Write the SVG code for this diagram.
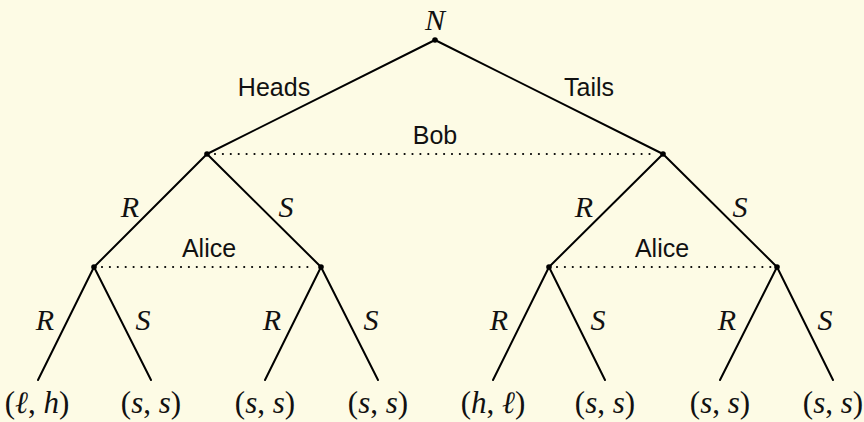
<svg xmlns="http://www.w3.org/2000/svg" width="864" height="422" viewBox="0 0 864 422">
<style>
.e{stroke:#000;stroke-width:2;fill:none;stroke-linecap:round}
.d{stroke:#000;stroke-width:2.2;fill:none;stroke-dasharray:0 7.9;stroke-linecap:round}
.n{fill:#000}
.s{font-family:"Liberation Sans",Arial,sans-serif;font-size:25px;fill:#111;text-anchor:middle}
.m{font-family:"Liberation Serif","DejaVu Serif",serif;font-style:italic;font-size:30px;fill:#111;text-anchor:middle}
.p{font-family:"Liberation Serif","DejaVu Serif",serif;font-size:31px;fill:#111;text-anchor:middle}
</style>
<rect width="864" height="422" fill="#fdfbe5"/>
<g id="connectors">
<path class="e" d="M435 40L207 154M435 40L663 154"/>
<path class="e" d="M207 154L94 267M207 154L321 267M663 154L549 267M663 154L777 267"/>
<path class="e" d="M94 267L38 380M94 267L151 380M321 267L265 380M321 267L378 380"/>
<path class="e" d="M549 267L493 380M549 267L605 380M777 267L720 380M777 267L833 380"/>
<path class="d" d="M215 154H657"/>
<path class="d" d="M102 267H315"/>
<path class="d" d="M557 267H771"/>
</g>
<g id="root"><circle class="n" cx="435" cy="40" r="2.8"/><text class="m" x="435" y="30">N</text></g>
<g id="bob-left"><circle class="n" cx="207" cy="154" r="2.8"/></g>
<g id="bob-right"><circle class="n" cx="663" cy="154" r="2.8"/></g>
<g id="alice-1"><circle class="n" cx="94" cy="267" r="2.8"/></g>
<g id="alice-2"><circle class="n" cx="321" cy="267" r="2.8"/></g>
<g id="alice-3"><circle class="n" cx="549" cy="267" r="2.8"/></g>
<g id="alice-4"><circle class="n" cx="777" cy="267" r="2.8"/></g>
<g id="labels">
<text class="s" x="274" y="96">Heads</text>
<text class="s" x="589" y="96">Tails</text>
<text class="s" x="435" y="144">Bob</text>
<text class="s" x="209" y="257">Alice</text>
<text class="s" x="662" y="257">Alice</text>
<text class="m" x="130" y="217">R</text>
<text class="m" x="286" y="217">S</text>
<text class="m" x="584" y="217">R</text>
<text class="m" x="740" y="217">S</text>
<text class="m" x="45" y="330">R</text>
<text class="m" x="143" y="330">S</text>
<text class="m" x="272" y="330">R</text>
<text class="m" x="371" y="330">S</text>
<text class="m" x="499" y="330">R</text>
<text class="m" x="598" y="330">S</text>
<text class="m" x="727" y="330">R</text>
<text class="m" x="825" y="330">S</text>
</g>
<g id="leaf-1"><text class="p" x="37" y="413">(<tspan font-style="italic">ℓ</tspan>, <tspan font-style="italic">h</tspan>)</text></g>
<g id="leaf-2"><text class="p" x="151" y="413">(<tspan font-style="italic">s</tspan>, <tspan font-style="italic">s</tspan>)</text></g>
<g id="leaf-3"><text class="p" x="265" y="413">(<tspan font-style="italic">s</tspan>, <tspan font-style="italic">s</tspan>)</text></g>
<g id="leaf-4"><text class="p" x="378" y="413">(<tspan font-style="italic">s</tspan>, <tspan font-style="italic">s</tspan>)</text></g>
<g id="leaf-5"><text class="p" x="493" y="413">(<tspan font-style="italic">h</tspan>, <tspan font-style="italic">ℓ</tspan>)</text></g>
<g id="leaf-6"><text class="p" x="605" y="413">(<tspan font-style="italic">s</tspan>, <tspan font-style="italic">s</tspan>)</text></g>
<g id="leaf-7"><text class="p" x="720" y="413">(<tspan font-style="italic">s</tspan>, <tspan font-style="italic">s</tspan>)</text></g>
<g id="leaf-8"><text class="p" x="833" y="413">(<tspan font-style="italic">s</tspan>, <tspan font-style="italic">s</tspan>)</text></g>
</svg>
